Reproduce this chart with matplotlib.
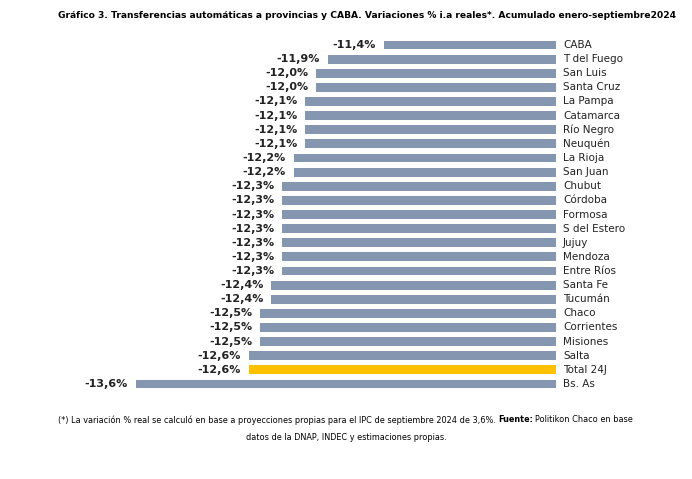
import matplotlib
matplotlib.use("Agg")
import matplotlib.pyplot as plt

categories = ["CABA","T del Fuego","San Luis","Santa Cruz","La Pampa","Catamarca","Río Negro",
              "Neuquén","La Rioja","San Juan","Chubut","Córdoba","Formosa","S del Estero","Jujuy",
              "Mendoza","Entre Ríos","Santa Fe","Tucumán","Chaco","Corrientes","Misiones","Salta",
              "Total 24J","Bs. As"]
values = [-11.4,-11.9,-12.0,-12.0,-12.1,-12.1,-12.1,-12.1,-12.2,-12.2,-12.3,-12.3,-12.3,-12.3,
          -12.3,-12.3,-12.3,-12.4,-12.4,-12.5,-12.5,-12.5,-12.6,-12.6,-13.6]

fig = plt.figure(figsize=(6.92,4.79), dpi=100)
n = len(categories)
top_px, bot_px = 45, 384
step = (bot_px-top_px)/(n-1)
ax = fig.add_axes([120/692, 1-(bot_px+step/2)/479, 436/692, (bot_px-top_px+step)/479])
ys = list(range(n))
colors = ["#FFC000" if c=="Total 24J" else "#8496B0" for c in categories]
ax.barh(ys, values, height=0.62, color=colors)
ax.set_ylim(n-0.5, -0.5)
ax.set_xlim(-13.742, -9.873)
ax.axis("off")
for y, v, c in zip(ys, values, categories):
    ax.text(v-0.07, y, f"{v:.1f}".replace(".", ",") + "%", ha="right", va="center",
            fontsize=8, fontweight="bold", color="#222222")
    ax.text(1.016, y, c, transform=ax.get_yaxis_transform(), ha="left", va="center",
            fontsize=7.5, color="#222222")

fig.text(58/692, 1-15/479, "Gráfico 3. Transferencias automáticas a provincias y CABA. Variaciones % i.a reales*. Acumulado enero-septiembre2024",
         ha="left", va="center", fontsize=6.6, fontweight="bold")
t1 = fig.text(58/692, 1-420/479, "(*) La variación % real se calculó en base a proyecciones propias para el IPC de septiembre 2024 de 3,6%. ",
              ha="left", va="center", fontsize=5.9)
fig.canvas.draw()
bb = t1.get_window_extent()
t2 = fig.text(bb.x1/692, 1-420/479, "Fuente:", ha="left", va="center", fontsize=5.9, fontweight="bold")
bb2 = t2.get_window_extent(renderer=fig.canvas.get_renderer())
fig.text(bb2.x1/692 + 0.003, 1-420/479, "Politikon Chaco en base", ha="left", va="center", fontsize=5.9)
fig.text(0.5, 1-437/479, "datos de la DNAP, INDEC y estimaciones propias.", ha="center", va="center", fontsize=5.9)
fig.savefig("out.png", dpi=100)
